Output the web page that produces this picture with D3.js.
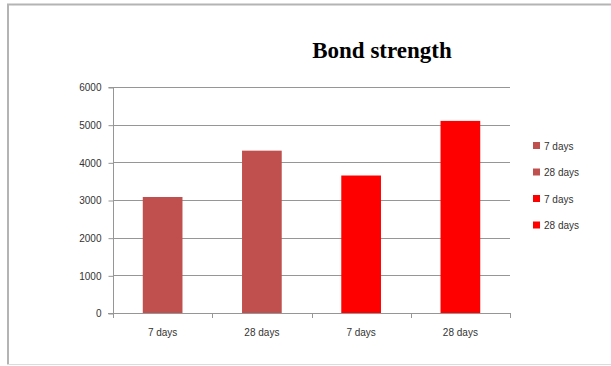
<!DOCTYPE html>
<html>
<head>
<meta charset="utf-8">
<script src="https://cdn.jsdelivr.net/npm/d3@7"></script>
<style>
  html, body { margin: 0; padding: 0; background: #fff; }
  svg { display: block; }
</style>
</head>
<body>
<svg id="chart" width="611" height="366"></svg>
<script>
// Bond strength by curing age, two mixes
const categories = ["7 days", "28 days", "7 days", "28 days"];
const values = [3080, 4310, 3650, 5100];
const barColors = ["#C0504D", "#C0504D", "#FF0000", "#FF0000"];
const yTicks = [0, 1000, 2000, 3000, 4000, 5000, 6000];
const titleText = "Bond strength";

const svg = d3.select("#chart");
const W = 611, H = 366;
const plot = { left: 113, right: 510, top: 87, bottom: 313 };

// Outer chart frame (top, left, bottom edges)
svg.append("line").attr("x1", 7).attr("x2", W).attr("y1", 4.5).attr("y2", 4.5)
  .attr("stroke", "#b4b4b4").attr("stroke-width", 2);
svg.append("line").attr("x1", 8).attr("x2", 8).attr("y1", 4).attr("y2", 365)
  .attr("stroke", "#b4b4b4").attr("stroke-width", 2);
svg.append("line").attr("x1", 7).attr("x2", W).attr("y1", 364.5).attr("y2", 364.5)
  .attr("stroke", "#dcdcdc").attr("stroke-width", 1);

const x = d3.scaleBand()
  .domain(d3.range(categories.length))
  .range([plot.left, plot.right])
  .paddingInner(0.6)
  .paddingOuter(0.3);

const band = d3.scaleBand()
  .domain(d3.range(categories.length))
  .range([plot.left, plot.right]);

const y = d3.scaleLinear().domain([0, 6000]).range([plot.bottom, plot.top]);

// Gridlines
svg.append("g").selectAll("line").data(yTicks.filter(d => d > 0)).join("line")
  .attr("x1", plot.left).attr("x2", plot.right)
  .attr("y1", d => Math.round(y(d)) + 0.5).attr("y2", d => Math.round(y(d)) + 0.5)
  .attr("stroke", "#969696").attr("stroke-width", 1);

// Bars
svg.append("g").selectAll("rect").data(values).join("rect")
  .attr("x", (d, i) => x(i))
  .attr("width", x.bandwidth())
  .attr("y", d => y(d))
  .attr("height", d => y(0) - y(d))
  .attr("fill", (d, i) => barColors[i]);

// Y axis
const yAxis = d3.axisLeft(y).tickValues(yTicks).tickSize(5).tickPadding(7).tickFormat(d3.format("d"));
const gy = svg.append("g").attr("transform", `translate(${plot.left + 0.5},0.5)`).call(yAxis);
gy.select(".domain").attr("stroke", "#969696").attr("d", `M-5,${plot.top}H0V${plot.bottom}`);
gy.selectAll(".tick line").attr("stroke", "#969696");
gy.selectAll(".tick text").attr("font-family", "Liberation Sans, Arial, sans-serif")
  .attr("font-size", 10).attr("fill", "#333");

// X axis baseline and boundary ticks
const gx = svg.append("g");
gx.append("line").attr("x1", plot.left - 5).attr("x2", plot.right)
  .attr("y1", plot.bottom + 0.5).attr("y2", plot.bottom + 0.5).attr("stroke", "#969696");
const bounds = d3.range(categories.length + 1).map(i => i < categories.length ? band(i) : plot.right);
gx.selectAll(".bt").data(bounds).join("line").attr("class", "bt")
  .attr("x1", d => Math.round(d) + 0.5).attr("x2", d => Math.round(d) + 0.5)
  .attr("y1", plot.bottom).attr("y2", plot.bottom + 5).attr("stroke", "#969696");
gx.selectAll("text").data(categories).join("text")
  .attr("x", (d, i) => band(i) + band.bandwidth() / 2)
  .attr("y", 336)
  .attr("text-anchor", "middle")
  .attr("font-family", "Liberation Sans, Arial, sans-serif")
  .attr("font-size", 10).attr("fill", "#333")
  .text(d => d);

// Title
svg.append("text").attr("x", 382).attr("y", 58)
  .attr("text-anchor", "middle")
  .attr("font-family", "Liberation Serif, Times New Roman, serif")
  .attr("font-weight", "bold").attr("font-size", 23).attr("fill", "#000")
  .text(titleText);

// Legend
const legend = svg.append("g").selectAll("g").data(categories).join("g")
  .attr("transform", (d, i) => `translate(533, ${146 + i * 26.5})`);
legend.append("rect").attr("x", 0).attr("y", -4).attr("width", 7).attr("height", 7)
  .attr("fill", (d, i) => barColors[i]);
legend.append("text").attr("x", 11).attr("y", 3.5)
  .attr("font-family", "Liberation Sans, Arial, sans-serif")
  .attr("font-size", 10).attr("fill", "#333")
  .text(d => d);
</script>
</body>
</html>
